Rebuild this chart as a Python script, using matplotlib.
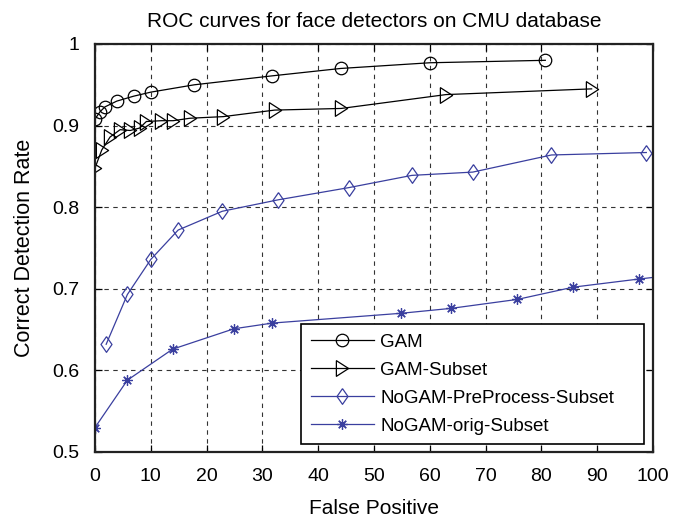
import matplotlib
matplotlib.use("Agg")
import matplotlib.pyplot as plt

plt.rcParams['font.family'] = ['Liberation Sans', 'DejaVu Sans']

gam_x = [0, 0.9, 1.8, 3.9, 6.9, 10, 17.8, 31.8, 44, 60, 80.7]
gam_y = [0.908, 0.917, 0.923, 0.930, 0.936, 0.941, 0.950, 0.961, 0.970, 0.977, 0.980]

sub_x = [0, 1.2, 2.7, 4.5, 6.3, 8, 9.2, 11.9, 14, 17, 23, 32.2, 44.1, 62.9, 89]
sub_y = [0.848, 0.870, 0.886, 0.895, 0.894, 0.897, 0.905, 0.906, 0.906, 0.909, 0.911, 0.919, 0.921, 0.938, 0.945]

pre_x = [2, 5.8, 10, 14.9, 22.8, 32.8, 45.5, 56.8, 67.7, 81.8, 98.8]
pre_y = [0.632, 0.693, 0.736, 0.772, 0.795, 0.809, 0.824, 0.839, 0.843, 0.864, 0.867]

orig_x = [0, 5.8, 13.9, 24.9, 31.8, 54.9, 63.8, 75.7, 85.7, 97.5, 104]
orig_y = [0.530, 0.588, 0.626, 0.651, 0.658, 0.670, 0.676, 0.687, 0.702, 0.712, 0.717]

labels = ['GAM', 'GAM-Subset', 'NoGAM-PreProcess-Subset', 'NoGAM-orig-Subset']
xticks = [0, 10, 20, 30, 40, 50, 60, 70, 80, 90, 100]
yticks = [0.5, 0.6, 0.7, 0.8, 0.9, 1.0]
ytick_labels = ['0.5', '0.6', '0.7', '0.8', '0.9', '1']

blue = '#3a3f9f'
tri_right = [(-0.78, 1), (0.78, 0), (-0.78, -1), (-0.78, 1)]
diamond = [(0, 1), (0.7, 0), (0, -1), (-0.7, 0), (0, 1)]

fig = plt.figure(figsize=(6.9, 5.2), dpi=100)
ax = fig.add_axes([0.1377, 0.1308, 0.8087, 0.7846])

ax.plot(gam_x, gam_y, color='black', lw=0.9, marker='o', ms=9, mfc='none', mec='black', mew=0.9, label=labels[0])
ax.plot(sub_x, sub_y, color='black', lw=0.9, marker=tri_right, ms=11.3, mfc='none', mec='black', mew=0.9, label=labels[1])
ax.plot(pre_x, pre_y, color=blue, lw=0.9, marker=diamond, ms=11.3, mfc='none', mec=blue, mew=0.9, label=labels[2])
ax.plot(orig_x, orig_y, color=blue, lw=0.9, marker=(8, 2, 0), ms=7.5, mfc='none', mec=blue, mew=0.9, label=labels[3])

ax.set_xlim(0, 100)
ax.set_ylim(0.5, 1.0)
ax.set_xticks(xticks)
ax.set_yticks(yticks)
ax.set_yticklabels(ytick_labels)
ax.tick_params(direction='in', top=True, right=True, labelsize=14, length=5, width=0.9, pad=11.5)
ax.grid(True, color='#333333', linestyle=(0, (4, 4)), linewidth=0.8)
for s in ax.spines.values():
    s.set_linewidth(1.6)
    s.set_color('#222222')

ax.set_xlabel('False Positive', fontsize=15, labelpad=10)
ax.set_ylabel('Correct Detection Rate', fontsize=15.5, labelpad=12)
ax.set_title('ROC curves for face detectors on CMU database', fontsize=15, pad=12)

leg = ax.legend(loc='lower left', bbox_to_anchor=(0.370, 0.0196, 0.614, 0.30), mode='expand',
                fontsize=13.5, fancybox=False, framealpha=1, edgecolor='black',
                handlelength=3.35, handletextpad=0.36, borderaxespad=0,
                labelspacing=0.58, borderpad=0.5)
leg.get_frame().set_linewidth(1.2)

fig.savefig('out.png', dpi=100)
